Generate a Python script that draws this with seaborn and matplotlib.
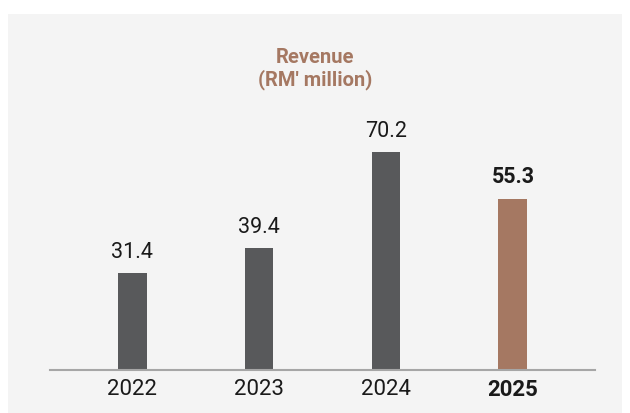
import matplotlib
matplotlib.use("Agg")
import matplotlib.pyplot as plt
from matplotlib.patches import Rectangle
import seaborn as sns
import pandas as pd

years = ["2022", "2023", "2024", "2025"]
revenue = [31.4, 39.4, 70.2, 55.3]
bar_colors = ["#58595b", "#58595b", "#58595b", "#a57862"]

sns.set_theme(style="white")
plt.rcParams["font.family"] = ["Roboto", "DejaVu Sans"]

W, H = 630, 414
fig = plt.figure(figsize=(W / 100, H / 100), dpi=100, facecolor="white")
fig.patches.append(Rectangle((8 / W, 0), (622 - 8) / W, (414 - 15) / H,
                             transform=fig.transFigure, facecolor="#f4f4f4",
                             edgecolor="none", zorder=-10))

ppu = 3.10
ymax = 80
bottom_px = 371
ax = fig.add_axes([50 / W, (H - bottom_px) / H, (595 - 50) / W, ymax * ppu / H])
ax.set_facecolor("none")
ax.set_zorder(5)

df = pd.DataFrame({"year": years, "revenue": revenue})
sns.barplot(data=df, x="year", y="revenue", hue="year", palette=bar_colors,
            legend=False, width=0.228, ax=ax, saturation=1, linewidth=0,
            edgecolor="none")

ax.set_xlim(-0.646, 3.646)
ax.set_ylim(0, ymax)
for s in ["top", "right", "left"]:
    ax.spines[s].set_visible(False)
ax.spines["bottom"].set_color("#a6a6a6")
ax.spines["bottom"].set_linewidth(1.5)
ax.set_yticks([])
ax.set_xlabel("")
ax.set_ylabel("")
ax.tick_params(axis="x", length=0, pad=6, labelsize=16, labelcolor="#1a1a1a")
for lbl in ax.get_xticklabels():
    if lbl.get_text() == "2025":
        lbl.set_fontweight("bold")

for i, v in enumerate(revenue):
    ax.annotate(f"{v:.1f}", (i, v), xytext=(0, 8), textcoords="offset points",
                ha="center", va="bottom", fontsize=15.5, color="#1a1a1a",
                fontweight="bold" if i == 3 else "normal", clip_on=False)

fig.text(0.5, (H - 69) / H, "Revenue\n(RM' million)", ha="center", va="center",
         fontsize=14.5, fontweight="bold", color="#a57862", linespacing=1.2)

fig.savefig("out.png", dpi=100, facecolor="white")
